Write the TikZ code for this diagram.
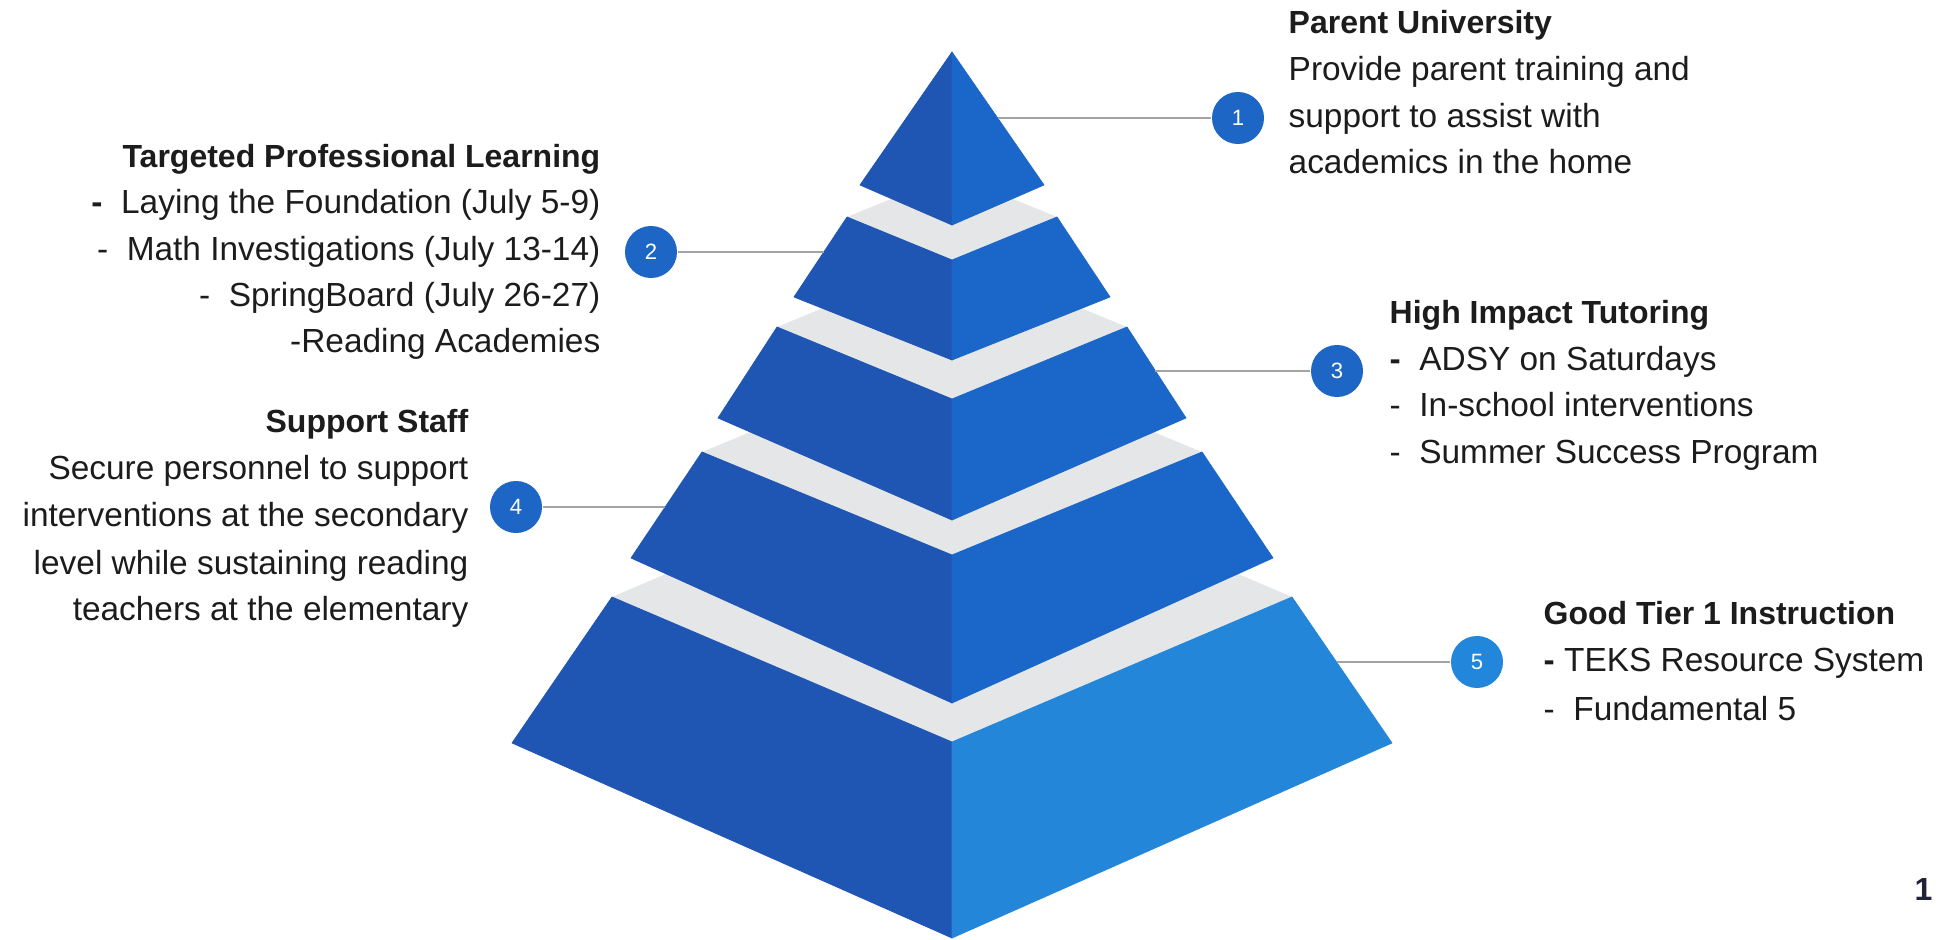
\documentclass[tikz,border=0pt]{standalone}
\usepackage{fontspec}
\setmainfont{Liberation Sans}
\definecolor{leftblue}{HTML}{1F55B3}
\definecolor{rightblue}{HTML}{1B67C9}
\definecolor{rightlight}{HTML}{2386D9}
\definecolor{topgray}{HTML}{E5E6E8}
\definecolor{badgeblue}{HTML}{1E66C6}
\definecolor{badgelight}{HTML}{2287DA}
\definecolor{leadgray}{HTML}{A3A3A3}
\definecolor{textblack}{HTML}{1C1C1C}
\definecolor{pagenavy}{HTML}{1F2437}
\tikzset{
  lface/.style={fill=leftblue, draw=leftblue, line width=0.2pt, line join=round},
  rface/.style={fill=rightblue, draw=rightblue, line width=0.2pt, line join=round},
  rfacelight/.style={fill=rightlight, draw=rightlight, line width=0.2pt, line join=round},
  topface/.style={fill=topgray},
  badge/.style={circle, fill=badgeblue, minimum size=0.52cm, inner sep=0pt, text=white, font=\fontsize{6.3}{7}\selectfont},
  leader/.style={draw=leadgray, line width=0.45pt},
  txt/.style={inner sep=0pt, text=textblack, font=\fontsize{9.5}{12}\selectfont},
  head/.style={inner sep=0pt, text=textblack, font=\fontsize{9.1}{12}\selectfont\bfseries},
}
\begin{document}
\begin{tikzpicture}[x=0.01cm, y=-0.01cm]
\useasboundingbox (0,0) rectangle (1936,940);
\fill[white] (0,0) rectangle (1936,940);

% ---- tier 5 (bottom)
\fill[topface] (612,597) -- (952,452) -- (1292,597) -- (952,742) -- cycle;
\filldraw[lface] (612,597) -- (952,742) -- (952,938) -- (512,743) -- cycle;
\filldraw[rfacelight] (952,742) -- (1292,597) -- (1392,743) -- (952,938) -- cycle;
% ---- tier 4
\fill[topface] (702,452) -- (952,349) -- (1202,452) -- (952,555) -- cycle;
\filldraw[lface] (702,452) -- (952,555) -- (952,703) -- (631,558) -- cycle;
\filldraw[rface] (952,555) -- (1202,452) -- (1273,558) -- (952,703) -- cycle;
% ---- tier 3
\fill[topface] (777,327) -- (952,255) -- (1127,327) -- (952,399) -- cycle;
\filldraw[lface] (777,327) -- (952,399) -- (952,520) -- (718,418) -- cycle;
\filldraw[rface] (952,399) -- (1127,327) -- (1186,418) -- (952,520) -- cycle;
% ---- tier 2
\fill[topface] (847,217) -- (952,174) -- (1057,217) -- (952,260) -- cycle;
\filldraw[lface] (847,217) -- (952,260) -- (952,360) -- (794,297) -- cycle;
\filldraw[rface] (952,260) -- (1057,217) -- (1110,297) -- (952,360) -- cycle;
% ---- tier 1 (top)
\filldraw[lface] (952,52) -- (952,225) -- (860,185) -- cycle;
\filldraw[rface] (952,52) -- (1044,185) -- (952,225) -- cycle;

% ---- leader end points on the pyramid
\coordinate (p1) at (998,118);
\coordinate (p2) at (824,252);
\coordinate (p3) at (1155,371);
\coordinate (p4) at (665,507);
\coordinate (p5) at (1337,662);

% ---- badges
\node[badge] (c1) at (1238,118) {1};
\node[badge] (c2) at (651,252) {2};
\node[badge] (c3) at (1337,371) {3};
\node[badge] (c4) at (516,507) {4};
\node[badge, fill=badgelight] (c5) at (1477,662) {5};

\draw[leader] (c1) -- (p1);
\draw[leader] (c2) -- (p2);
\draw[leader] (c3) -- (p3);
\draw[leader] (c4) -- (p4);
\draw[leader] (c5) -- (p5);

% ---- block 1: Parent University
\node[head, anchor=base west] (a0) at (1288,34) {Parent University};
\node[txt, anchor=base west] (a1) at (1288,81) {Provide parent training and};
\node[txt, anchor=base west] (a2) at (1288,128) {support to assist with};
\node[txt, anchor=base west] (a3) at (1288,174) {academics in the home};

% ---- block 2: Targeted Professional Learning
\node[head, anchor=base east] (b0) at (601,168) {Targeted Professional Learning};
\node[txt, anchor=base east] (b1) at (601,214) {\textbf{-}\ \ Laying the Foundation (July 5-9)};
\node[txt, anchor=base east] (b2) at (601,261) {-\ \ Math Investigations (July 13-14)};
\node[txt, anchor=base east] (b3) at (601,307) {-\ \ SpringBoard (July 26-27)};
\node[txt, anchor=base east] (b4) at (601,353) {-Reading Academies};

% ---- block 3: High Impact Tutoring
\node[head, anchor=base west] (h0) at (1389,324) {High Impact Tutoring};
\node[txt, anchor=base west] (h1) at (1389,371) {\textbf{-}\ \ ADSY on Saturdays};
\node[txt, anchor=base west] (h2) at (1389,417) {-\ \ In-school interventions};
\node[txt, anchor=base west] (h3) at (1389,464) {-\ \ Summer Success Program};

% ---- block 4: Support Staff
\node[head, anchor=base east] (s0) at (469,433) {Support Staff};
\node[txt, anchor=base east] (s1) at (469,480) {Secure personnel to support};
\node[txt, anchor=base east] (s2) at (469,527) {interventions at the secondary};
\node[txt, anchor=base east] (s3) at (469,574) {level while sustaining reading};
\node[txt, anchor=base east] (s4) at (469,620) {teachers at the elementary};

% ---- block 5: Good Tier 1 Instruction
\node[head, anchor=base west] (g0) at (1543,624) {Good Tier 1 Instruction};
\node[txt, anchor=base west] (g1) at (1543,672) {\textbf{-} TEKS Resource System};
\node[txt, anchor=base west] (g2) at (1543,720) {-\ \ Fundamental 5};

% ---- page number
\node[head, text=pagenavy, anchor=base east] (pg) at (1933,900) {1};
\end{tikzpicture}
\end{document}
